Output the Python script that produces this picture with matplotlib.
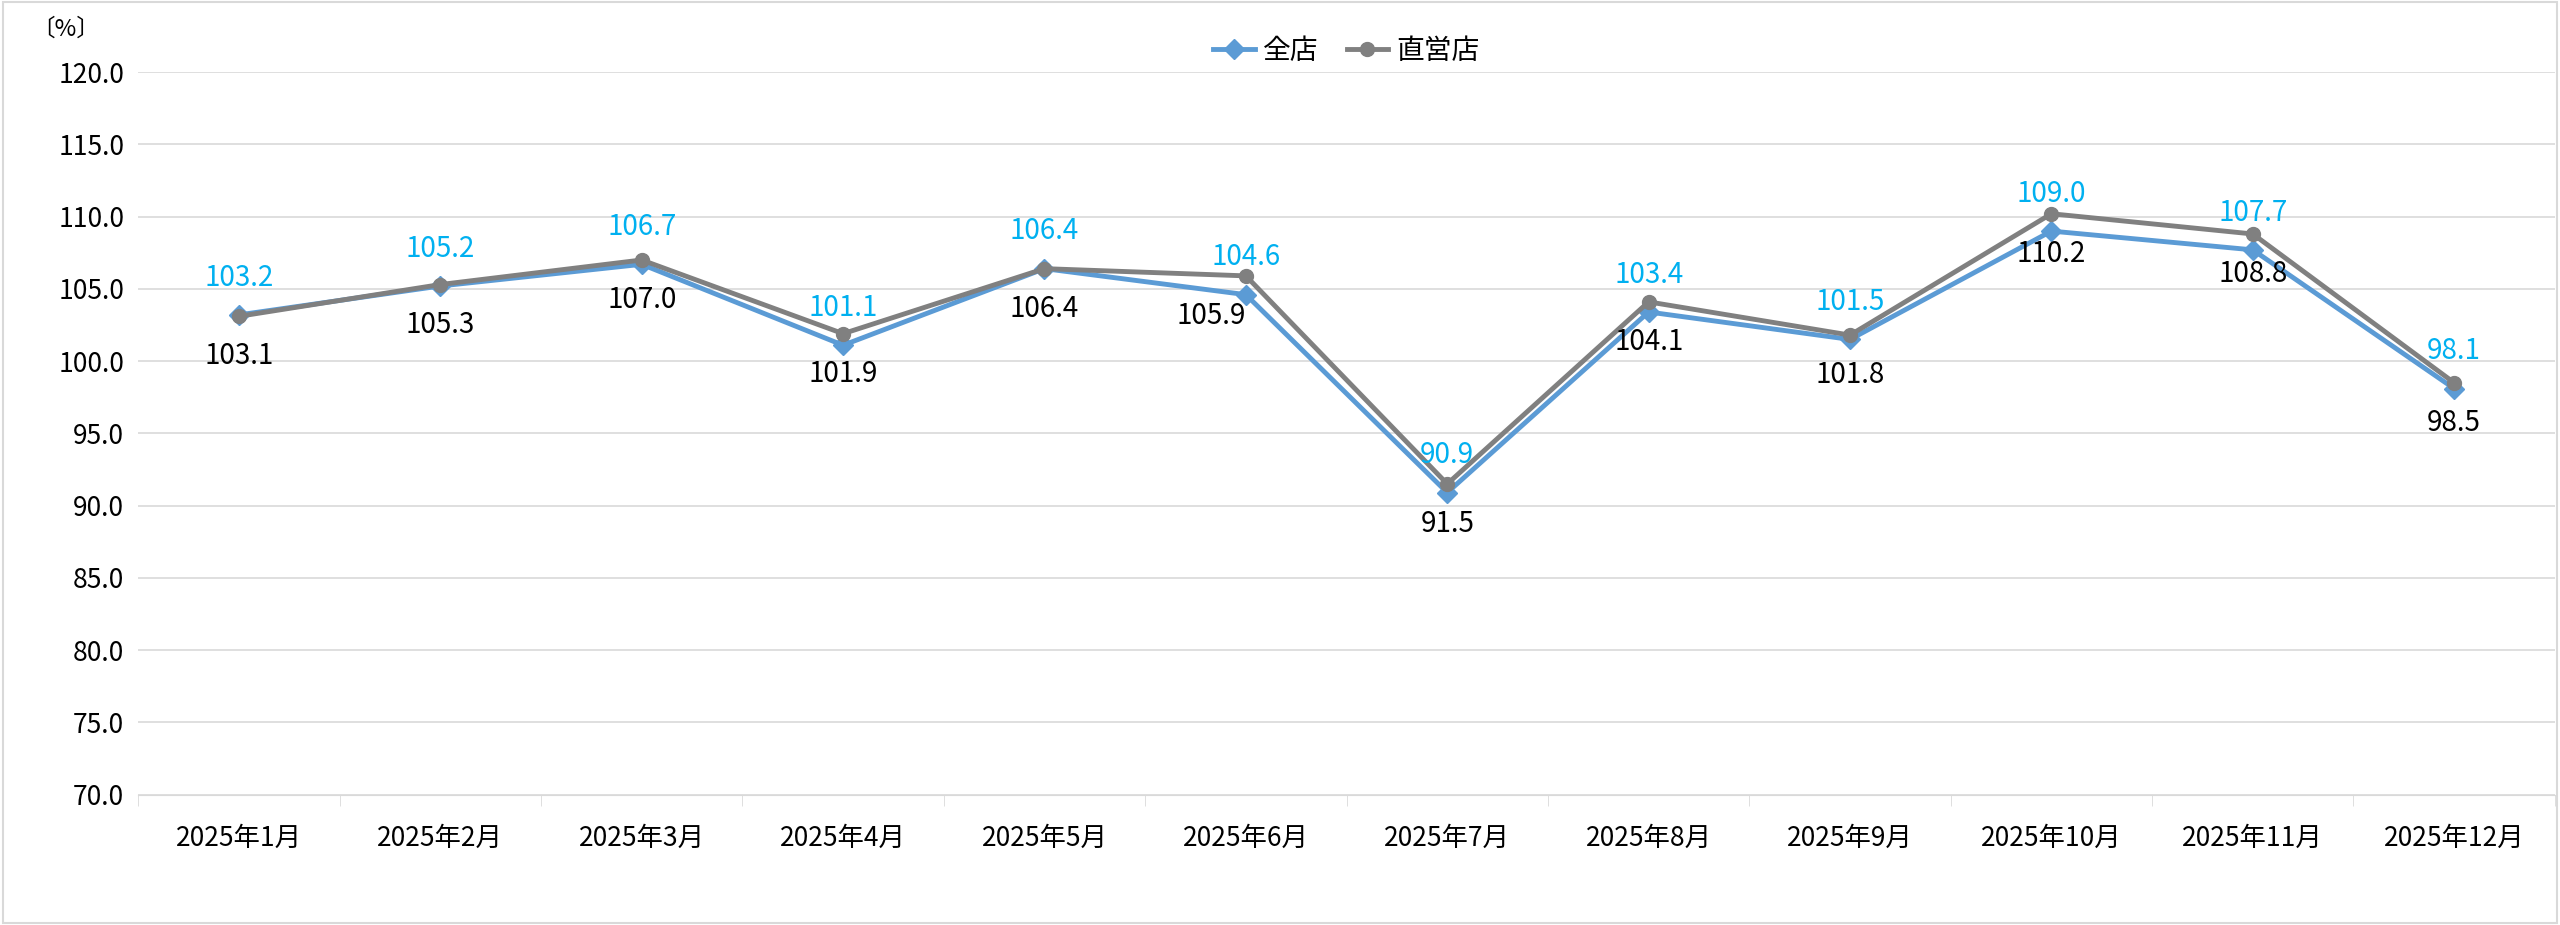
import matplotlib
matplotlib.use("Agg")
import matplotlib.pyplot as plt

plt.rcParams['font.family'] = ['Noto Sans CJK JP', 'DejaVu Sans']

months = ["2025年1月","2025年2月","2025年3月","2025年4月","2025年5月","2025年6月",
          "2025年7月","2025年8月","2025年9月","2025年10月","2025年11月","2025年12月"]
all_stores = [103.2,105.2,106.7,101.1,106.4,104.6,90.9,103.4,101.5,109.0,107.7,98.1]
direct = [103.1,105.3,107.0,101.9,106.4,105.9,91.5,104.1,101.8,110.2,108.8,98.5]

fig = plt.figure(figsize=(25.6, 9.25), dpi=100)
ax = fig.add_axes([0.054, 0.141, 0.944, 0.781])
x = list(range(len(months)))
ax.plot(x, all_stores, color='#5B9BD5', lw=3.5, marker='D', ms=10, label='全店', zorder=3)
ax.plot(x, direct, color='#808080', lw=3.5, marker='o', ms=10, label='直営店', zorder=3)

for i in x:
    ax.annotate(f"{all_stores[i]:.1f}", (i, all_stores[i]), xytext=(0, 16),
                textcoords='offset points', ha='center', va='bottom', color='#00B0F0', fontsize=20)
    off = (-25, -18) if i == 5 else (0, -18)
    ax.annotate(f"{direct[i]:.1f}", (i, direct[i]), xytext=off,
                textcoords='offset points', ha='center', va='top', color='black', fontsize=20)

ax.set_xlim(-0.5, len(months) - 0.5)
ax.set_ylim(70, 120)
ax.set_yticks([70 + 5 * k for k in range(11)])
ax.set_yticklabels([f"{70 + 5 * k:.1f}" for k in range(11)], fontsize=19)
ax.set_xticks(x)
ax.set_xticklabels(months, fontsize=19)
ax.set_xticks([i + 0.5 for i in range(-1, len(months))], minor=True)
ax.tick_params(axis='x', which='major', length=0, pad=22)
ax.tick_params(axis='x', which='minor', length=8, color='#D9D9D9')
ax.tick_params(axis='y', length=0, pad=10)
ax.grid(axis='y', color='#D9D9D9', lw=1.2)
ax.set_axisbelow(True)
for s in ['top', 'right', 'left']:
    ax.spines[s].set_visible(False)
ax.spines['bottom'].set_color('#D9D9D9')
fig.text(0.012, 0.968, "〔%〕", fontsize=17, ha='left', va='center')
ax.legend(loc='upper center', bbox_to_anchor=(0.5, 1.085), ncol=2, frameon=False,
          fontsize=20, handlelength=1.5, columnspacing=1.0, handletextpad=0.3)
fig.patches.append(plt.Rectangle((0.001, 0.002), 0.998, 0.996, transform=fig.transFigure,
                                 fill=False, edgecolor='#D9D9D9', lw=1.5))
fig.savefig("out.png", dpi=100)
